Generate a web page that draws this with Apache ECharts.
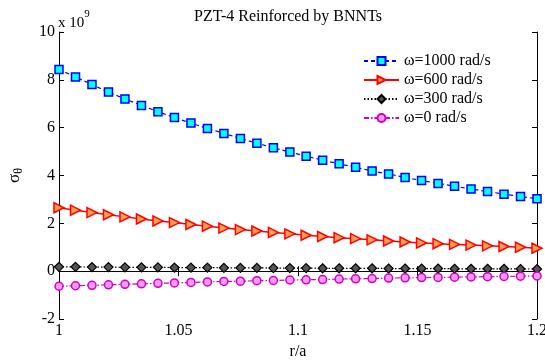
<!DOCTYPE html>
<html>
<head>
<meta charset="utf-8">
<script src="https://cdn.jsdelivr.net/npm/echarts@6/dist/echarts.min.js"></script>
<style>
  html, body { margin: 0; padding: 0; background: #fff; }
  #chart { width: 545px; height: 360px; }
</style>
</head>
<body>
<div id="chart"></div>
<script>
const serif = '"Liberation Serif", "DejaVu Serif", serif';

// r/a positions (30 points between 1 and 1.2)
const ra = [1.0000, 1.0069, 1.0138, 1.0207, 1.0276, 1.0345, 1.0414, 1.0483, 1.0552, 1.0621,
            1.0690, 1.0759, 1.0828, 1.0897, 1.0966, 1.1034, 1.1103, 1.1172, 1.1241, 1.1310,
            1.1379, 1.1448, 1.1517, 1.1586, 1.1655, 1.1724, 1.1793, 1.1862, 1.1931, 1.2000];

// sigma_theta, x 10^9
const w1000 = [8.43, 8.12, 7.80, 7.49, 7.20, 6.93, 6.67, 6.42, 6.19, 5.97,
               5.76, 5.55, 5.35, 5.16, 4.98, 4.81, 4.64, 4.49, 4.34, 4.19,
               4.06, 3.92, 3.79, 3.67, 3.55, 3.44, 3.33, 3.22, 3.12, 3.03];
const w600 = [2.65, 2.55, 2.45, 2.36, 2.27, 2.18, 2.10, 2.03, 1.95, 1.88,
              1.80, 1.74, 1.68, 1.62, 1.56, 1.50, 1.45, 1.40, 1.36, 1.31,
              1.26, 1.22, 1.18, 1.15, 1.12, 1.09, 1.06, 1.03, 1.00, 0.96];
const w300 = [0.18, 0.18, 0.17, 0.17, 0.16, 0.16, 0.16, 0.15, 0.15, 0.15,
              0.14, 0.14, 0.14, 0.13, 0.13, 0.13, 0.12, 0.12, 0.12, 0.12,
              0.11, 0.11, 0.11, 0.11, 0.10, 0.10, 0.10, 0.10, 0.09, 0.09];
const w0 = [-0.63, -0.61, -0.59, -0.57, -0.55, -0.53, -0.51, -0.49, -0.47, -0.45,
            -0.43, -0.42, -0.40, -0.39, -0.37, -0.36, -0.35, -0.33, -0.32, -0.31,
            -0.29, -0.28, -0.27, -0.26, -0.25, -0.24, -0.23, -0.22, -0.21, -0.20];

const names = ['ω=1000 rad/s', 'ω=600 rad/s', 'ω=300 rad/s', 'ω=0 rad/s'];

const pairs = (ys) => ra.map((x, i) => [x, ys[i]]);

const axisLine = { show: true, lineStyle: { color: '#000', width: 1 } };
const tickIn = { show: true, inside: true, length: 5, lineStyle: { color: '#000' } };

const chart = echarts.init(document.getElementById('chart'));

chart.setOption({
    animation: false,
    backgroundColor: '#fff',
    title: {
        text: 'PZT-4 Reinforced by BNNTs',
        left: 283,
        textAlign: 'center',
        top: 4,
        textStyle: { fontFamily: serif, fontSize: 16, fontWeight: 'normal', color: '#000' }
    },
    grid: { left: 59, right: 8, top: 32, bottom: 41, containLabel: false, outerBoundsMode: 'none' },
    legend: {
        left: 358,
        top: 48,
        orient: 'vertical',
        itemGap: 3,
        itemWidth: 35,
        itemHeight: 10,
        data: names,
        textStyle: { fontFamily: serif, fontSize: 16, color: '#000' }
    },
    xAxis: [
        {
            type: 'value',
            min: 1,
            max: 1.2,
            interval: 0.05,
            position: 'bottom',
            axisLine,
            axisTick: tickIn,
            splitLine: { show: false },
            axisLabel: { color: '#000', fontFamily: serif, fontSize: 16, margin: 4 },
            name: 'r/a',
            nameLocation: 'middle',
            nameGap: 24,
            nameTextStyle: { color: '#000', fontFamily: serif, fontSize: 16 }
        },
        {
            type: 'value',
            min: 1,
            max: 1.2,
            interval: 0.05,
            position: 'top',
            axisLine,
            axisTick: tickIn,
            splitLine: { show: false },
            axisLabel: { show: false }
        }
    ],
    yAxis: [
        {
            type: 'value',
            min: -2,
            max: 10,
            interval: 2,
            position: 'left',
            axisLine,
            axisTick: tickIn,
            splitLine: { show: false },
            axisLabel: { color: '#000', fontFamily: serif, fontSize: 16, margin: 4 },
            name: '{s|σ}{t|θ}',
            nameLocation: 'middle',
            nameGap: 34,
            nameRotate: 90,
            nameTextStyle: {
                rich: {
                    s: { fontFamily: serif, fontSize: 17, color: '#000' },
                    t: { fontFamily: serif, fontSize: 12, color: '#000', padding: [9, 0, 0, 0] }
                }
            }
        },
        {
            type: 'value',
            min: -2,
            max: 10,
            interval: 2,
            position: 'right',
            axisLine,
            axisTick: tickIn,
            splitLine: { show: false },
            axisLabel: { show: false }
        }
    ],
    graphic: [
        {
            type: 'text',
            left: 58,
            top: 9,
            style: {
                text: '{a|x 10}{b|9}',
                rich: {
                    a: { fontFamily: serif, fontSize: 15, fill: '#000', padding: [7, 0, 0, 0] },
                    b: { fontFamily: serif, fontSize: 11, fill: '#000', verticalAlign: 'top' }
                }
            }
        }
    ],
    series: [
        {
            name: names[0],
            type: 'line',
            data: pairs(w1000),
            symbol: 'rect',
            symbolSize: 8,
            lineStyle: { color: '#0000ff', width: 1.2, type: [4, 3] },
            itemStyle: { color: '#00ffff', borderColor: '#0000ff', borderWidth: 1.5 }
        },
        {
            name: names[1],
            type: 'line',
            data: pairs(w600),
            symbol: 'path://M0,0 L10,5 L0,10 Z',
            symbolSize: 10,
            lineStyle: { color: '#ff0000', width: 1.5, type: 'solid' },
            itemStyle: { color: '#ffa050', borderColor: '#ff0000', borderWidth: 1.5 }
        },
        {
            name: names[2],
            type: 'line',
            data: pairs(w300),
            symbol: 'diamond',
            symbolSize: 9,
            lineStyle: { color: '#000000', width: 1.2, type: [1.5, 2] },
            itemStyle: { color: '#555555', borderColor: '#000000', borderWidth: 1.2 }
        },
        {
            name: names[3],
            type: 'line',
            data: pairs(w0),
            symbol: 'circle',
            symbolSize: 8,
            lineStyle: { color: '#cc00cc', width: 1.2, type: [5, 2, 1.5, 2] },
            itemStyle: { color: '#ff99ee', borderColor: '#cc00cc', borderWidth: 1.5 }
        }
    ]
});
</script>
</body>
</html>
